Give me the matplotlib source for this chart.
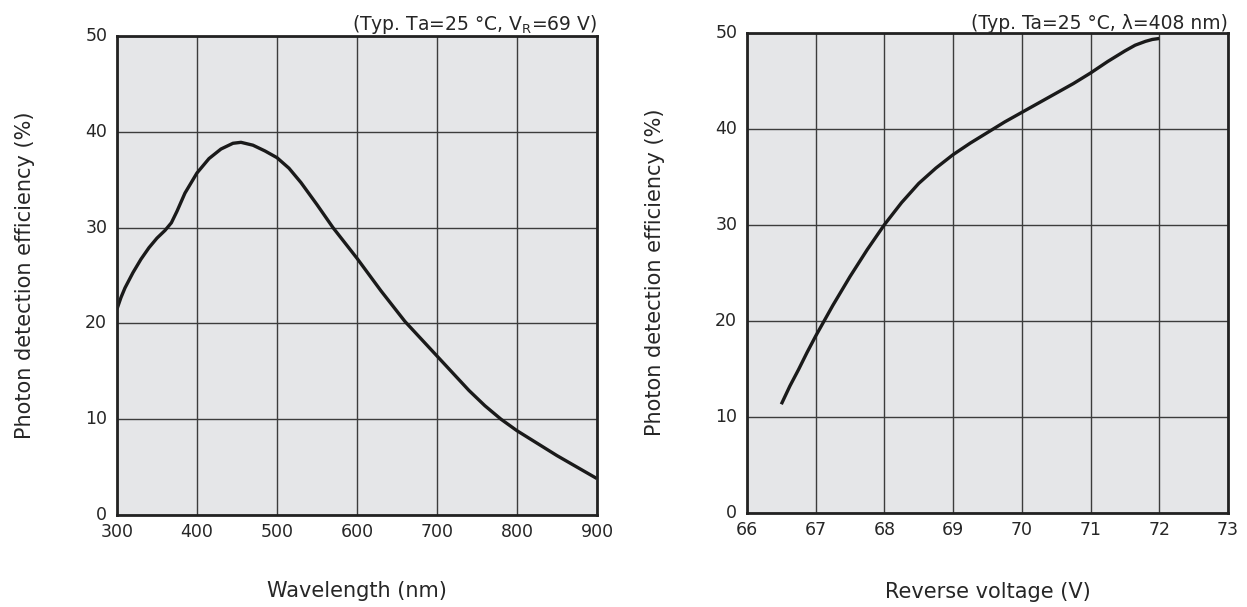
import numpy as np
import matplotlib
matplotlib.use("Agg")
import matplotlib.pyplot as plt
from matplotlib.transforms import ScaledTranslation

plt.rcParams["font.family"] = ["DejaVu Sans"]
plt.rcParams["mathtext.default"] = "regular"

# ---- data ----
wavelength_nm = [300, 305, 310, 320, 330, 340, 350, 360, 368, 375, 385, 400,
                 415, 430, 445, 455, 470, 485, 500, 515, 530, 550, 570, 600,
                 630, 660, 680, 700, 720, 740, 760, 780, 800, 825, 850, 875,
                 900]
pde_wavelength = [21.5, 22.7, 23.7, 25.3, 26.7, 27.9, 28.9, 29.7, 30.5, 31.7,
                  33.6, 35.7, 37.2, 38.2, 38.8, 38.9, 38.6, 38.0, 37.3, 36.2,
                  34.7, 32.4, 30.0, 26.8, 23.4, 20.2, 18.4, 16.6, 14.8, 13.0,
                  11.4, 10.0, 8.8, 7.5, 6.2, 5.0, 3.8]

reverse_voltage = [66.5, 66.625, 66.75, 66.875, 67.0, 67.25, 67.5, 67.75, 68.0,
                   68.25, 68.5, 68.75, 69.0, 69.25, 69.5, 69.75, 70.0, 70.25,
                   70.5, 70.75, 71.0, 71.25, 71.5, 71.65, 71.8, 71.9, 72.0]
pde_voltage = [11.3, 13.2, 14.9, 16.7, 18.4, 21.6, 24.6, 27.4, 30.0, 32.3,
               34.3, 35.9, 37.3, 38.5, 39.6, 40.7, 41.7, 42.7, 43.7, 44.7,
               45.8, 47.0, 48.1, 48.7, 49.1, 49.3, 49.4]

wl_ticks = [300, 400, 500, 600, 700, 800, 900]
v_ticks = [66, 67, 68, 69, 70, 71, 72, 73]
pde_ticks = [0, 10, 20, 30, 40, 50]

TXT = "#262626"
BG = "#e5e6e8"
GRID = "#3c3c3c"

fig = plt.figure(figsize=(12.47, 6.07), dpi=100)
ax1 = fig.add_axes([0.0938, 0.1516, 0.3849, 0.7891])
ax2 = fig.add_axes([0.5990, 0.1553, 0.3857, 0.7908])


def style(ax, xticks, xlim):
    ax.set_facecolor(BG)
    ax.set_xlim(*xlim)
    ax.set_ylim(0, 50)
    ax.set_xticks(xticks)
    ax.set_yticks(pde_ticks)
    ax.grid(True, color=GRID, lw=1.0)
    ax.set_axisbelow(True)
    ax.tick_params(length=0, labelsize=12.5, labelcolor=TXT)
    ax.tick_params(axis="x", pad=6)
    ax.tick_params(axis="y", pad=7)
    # y tick labels sit a touch above their gridline in the reference
    up = ScaledTranslation(0, 1.5 / 72, fig.dpi_scale_trans)
    for lab in ax.get_yticklabels():
        lab.set_transform(lab.get_transform() + up)
    for s in ax.spines.values():
        s.set_linewidth(2.0)
        s.set_color("#222222")
    ax.set_ylabel("Photon detection efficiency (%)", fontsize=15, color=TXT)
    ax.yaxis.set_label_coords(-0.171, 0.5)


style(ax1, wl_ticks, (300, 900))
ax1.plot(wavelength_nm, pde_wavelength, color="#1a1a1a", lw=2.4,
         solid_capstyle="butt", solid_joinstyle="round")
ax1.set_xlabel("Wavelength (nm)", fontsize=15, color=TXT)
ax1.xaxis.set_label_coords(0.5, -0.138)
ax1.set_title(r"(Typ. Ta=25 °C, V$_\mathregular{R}$=69 V)", loc="right",
              fontsize=13.5, color=TXT, pad=4)

style(ax2, v_ticks, (66, 73))
ax2.plot(reverse_voltage, pde_voltage, color="#1a1a1a", lw=2.4,
         solid_capstyle="butt", solid_joinstyle="round")
ax2.set_xlabel("Reverse voltage (V)", fontsize=15, color=TXT)
ax2.xaxis.set_label_coords(0.5, -0.145)
ax2.set_title("(Typ. Ta=25 °C, λ=408 nm)", loc="right",
              fontsize=13.5, color=TXT, pad=2)

fig.savefig("out.png", dpi=100)
